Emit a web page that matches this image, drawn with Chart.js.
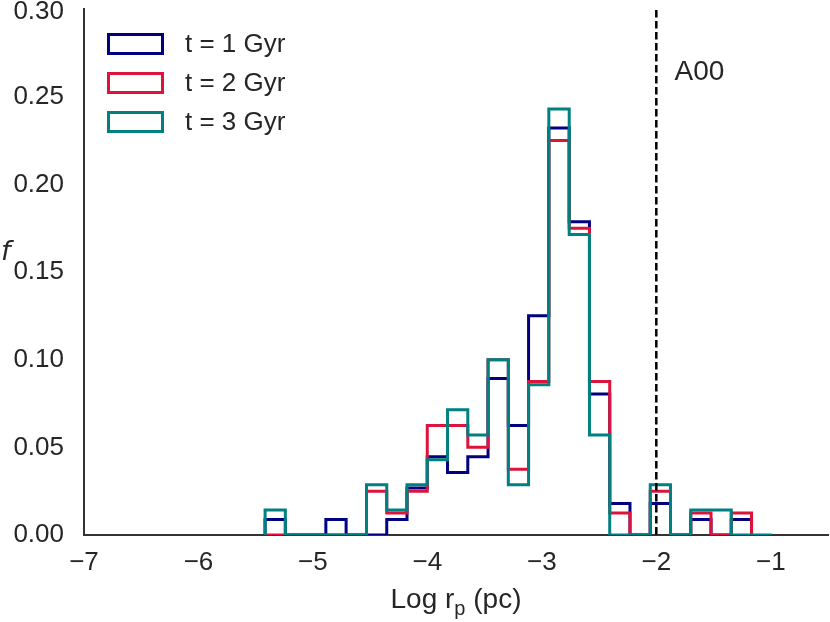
<!DOCTYPE html>
<html>
<head>
<meta charset="utf-8">
<script src="https://cdn.jsdelivr.net/npm/chart.js@4/dist/chart.umd.min.js"></script>
<style>
html,body{margin:0;padding:0;background:#fff;}
#wrap{width:830px;height:622px;position:relative;}
</style>
</head>
<body>
<div id="wrap"><canvas id="c" width="830" height="622"></canvas></div>
<script>
// ---- data ----
const binEdges = [-5.418,-5.241,-5.064,-4.887,-4.710,-4.532,-4.355,-4.178,-4.001,-3.824,-3.647,-3.470,-3.293,-3.116,-2.939,-2.761,-2.584,-2.407,-2.230,-2.053,-1.876,-1.699,-1.522,-1.345,-1.168,-0.991];
const seriesLabels = ['t = 1 Gyr', 't = 2 Gyr', 't = 3 Gyr'];
const f1Gyr = [0.0089,0,0,0.0089,0,0,0.0089,0.0268,0.0446,0.0357,0.0446,0.0893,0.0625,0.125,0.2321,0.1786,0.0804,0.0179,0,0.0179,0,0.0089,0,0.0089];
const f2Gyr = [0,0,0,0,0,0.025,0.0125,0.025,0.0625,0.0625,0.05,0.1,0.0375,0.0875,0.225,0.175,0.0875,0.0125,0,0.025,0,0.0125,0,0.0125];
const f3Gyr = [0.0143,0,0,0,0,0.0286,0.0143,0.0286,0.0429,0.0714,0.0571,0.1,0.0286,0.0857,0.2429,0.1714,0.0571,0,0,0.0286,0,0.0143,0.0143,0,0];
const xTickValues = [-7,-6,-5,-4,-3,-2,-1];
const yTickValues = [0,0.05,0.10,0.15,0.20,0.25,0.30];
const refLineX = -2;
const refLabel = 'A00';
const refLabelPos = {x: -1.84, y: 0.264};
const xTitleParts = ['Log r', 'p', ' (pc)'];
const yTitle = 'f';

const colors = ['#000080', '#DC143C', '#008080'];
const textColor = '#262626';
const fontFam = '"Liberation Sans", Arial, Helvetica, sans-serif';
const yTop = yTickValues[yTickValues.length - 1];

function stepOutline(values) {
  const pts = [{x: binEdges[0], y: 0}];
  values.forEach((v, i) => {
    pts.push({x: binEdges[i], y: v});
    pts.push({x: binEdges[i + 1], y: v});
  });
  pts.push({x: binEdges[values.length], y: 0});
  return pts;
}

const seriesValues = [f1Gyr, f2Gyr, f3Gyr];
const datasets = seriesValues.map((vals, i) => ({
  label: seriesLabels[i],
  data: stepOutline(vals),
  borderColor: colors[i],
  backgroundColor: 'rgba(0,0,0,0)',
  borderWidth: 3,
  pointRadius: 0,
  tension: 0,
  fill: false,
  borderJoinStyle: 'miter',
  order: 2 - i
}));

const overlayPlugin = {
  id: 'overlay',
  afterDatasetsDraw(chart) {
    const ctx = chart.ctx;
    const xs = chart.scales.x, ys = chart.scales.y;
    const area = chart.chartArea;
    // dashed reference line
    ctx.save();
    ctx.strokeStyle = '#000';
    ctx.lineWidth = 2.5;
    ctx.setLineDash([7.5, 3.5]);
    const px = xs.getPixelForValue(refLineX);
    ctx.beginPath();
    ctx.moveTo(px, area.top + 1);
    ctx.lineTo(px, area.bottom);
    ctx.stroke();
    ctx.restore();
    // reference label
    ctx.save();
    ctx.fillStyle = textColor;
    ctx.font = '28px ' + fontFam;
    ctx.textAlign = 'left';
    ctx.textBaseline = 'middle';
    ctx.fillText(refLabel, xs.getPixelForValue(refLabelPos.x), ys.getPixelForValue(refLabelPos.y));
    ctx.restore();
    // legend
    ctx.save();
    const lx = area.left + 23, ly = area.top + 24, bw = 57, bh = 22, gap = 39;
    chart.data.datasets.forEach((ds, i) => {
      const y = ly + i * gap;
      ctx.fillStyle = '#fff';
      ctx.fillRect(lx, y, bw, bh);
      ctx.strokeStyle = ds.borderColor;
      ctx.lineWidth = 3;
      ctx.setLineDash([]);
      ctx.strokeRect(lx + 1.5, y + 1.5, bw - 3, bh - 3);
      ctx.fillStyle = textColor;
      ctx.font = '26px ' + fontFam;
      ctx.textAlign = 'left';
      ctx.textBaseline = 'middle';
      ctx.fillText(ds.label, lx + 78, y + bh / 2 + 1);
    });
    ctx.restore();
  },
  afterDraw(chart) {
    const ctx = chart.ctx;
    const area = chart.chartArea;
    const ys = chart.scales.y;
    ctx.save();
    ctx.fillStyle = textColor;
    // top y tick label, kept fully inside the canvas
    ctx.font = '26px ' + fontFam;
    ctx.textAlign = 'right';
    ctx.textBaseline = 'middle';
    ctx.fillText(yTop.toFixed(2), area.left - 20, Math.max(ys.getPixelForValue(yTop), 12));
    // x axis title with subscript
    const bigFont = '28px ' + fontFam, smallFont = '20px ' + fontFam;
    ctx.font = bigFont; const w0 = ctx.measureText(xTitleParts[0]).width;
    ctx.font = smallFont; const w1 = ctx.measureText(xTitleParts[1]).width;
    ctx.font = bigFont; const w2 = ctx.measureText(xTitleParts[2]).width;
    const total = w0 + w1 + w2;
    let x = (area.left + area.right) / 2 - total / 2;
    const base = 608;
    ctx.textAlign = 'left';
    ctx.textBaseline = 'alphabetic';
    ctx.font = bigFont; ctx.fillText(xTitleParts[0], x, base); x += w0;
    ctx.font = smallFont; ctx.fillText(xTitleParts[1], x, base + 7); x += w1;
    ctx.font = bigFont; ctx.fillText(xTitleParts[2], x, base);
    // y title
    ctx.font = 'italic 27px "DejaVu Sans", sans-serif';
    ctx.fillText(yTitle, 1, 260);
    ctx.restore();
  }
};

new Chart(document.getElementById('c'), {
  type: 'line',
  data: { datasets },
  options: {
    responsive: false,
    animation: false,
    events: [],
    layout: { padding: { top: 9, right: 2, left: 0, bottom: 0 } },
    plugins: { legend: { display: false }, tooltip: { enabled: false } },
    scales: {
      x: {
        type: 'linear',
        min: -7, max: -0.5,
        grid: { display: false, drawTicks: false },
        border: { display: true, color: '#333333', width: 2 },
        afterBuildTicks: (s) => { s.ticks = xTickValues.map(v => ({ value: v })); },
        afterFit: (s) => { s.height = 87; s.paddingLeft = 0; s.paddingRight = 0; },
        ticks: {
          color: textColor,
          padding: 12,
          maxRotation: 0,
          autoSkip: false,
          font: { family: fontFam, size: 26 },
          callback: (v) => (v < 0 ? '\u2212' + Math.abs(v) : String(v))
        }
      },
      y: {
        type: 'linear',
        min: 0, max: 0.30,
        grid: { display: false, drawTicks: false },
        border: { display: true, color: '#333333', width: 2 },
        afterBuildTicks: (s) => { s.ticks = yTickValues.map(v => ({ value: v })); },
        afterFit: (s) => { s.width = 84; s.paddingTop = 0; s.paddingBottom = 0; },
        ticks: {
          color: textColor,
          padding: 20,
          autoSkip: false,
          font: { family: fontFam, size: 26 },
          callback: (v) => (v >= yTop ? '' : Number(v).toFixed(2))
        }
      }
    }
  },
  plugins: [overlayPlugin]
});
</script>
</body>
</html>
